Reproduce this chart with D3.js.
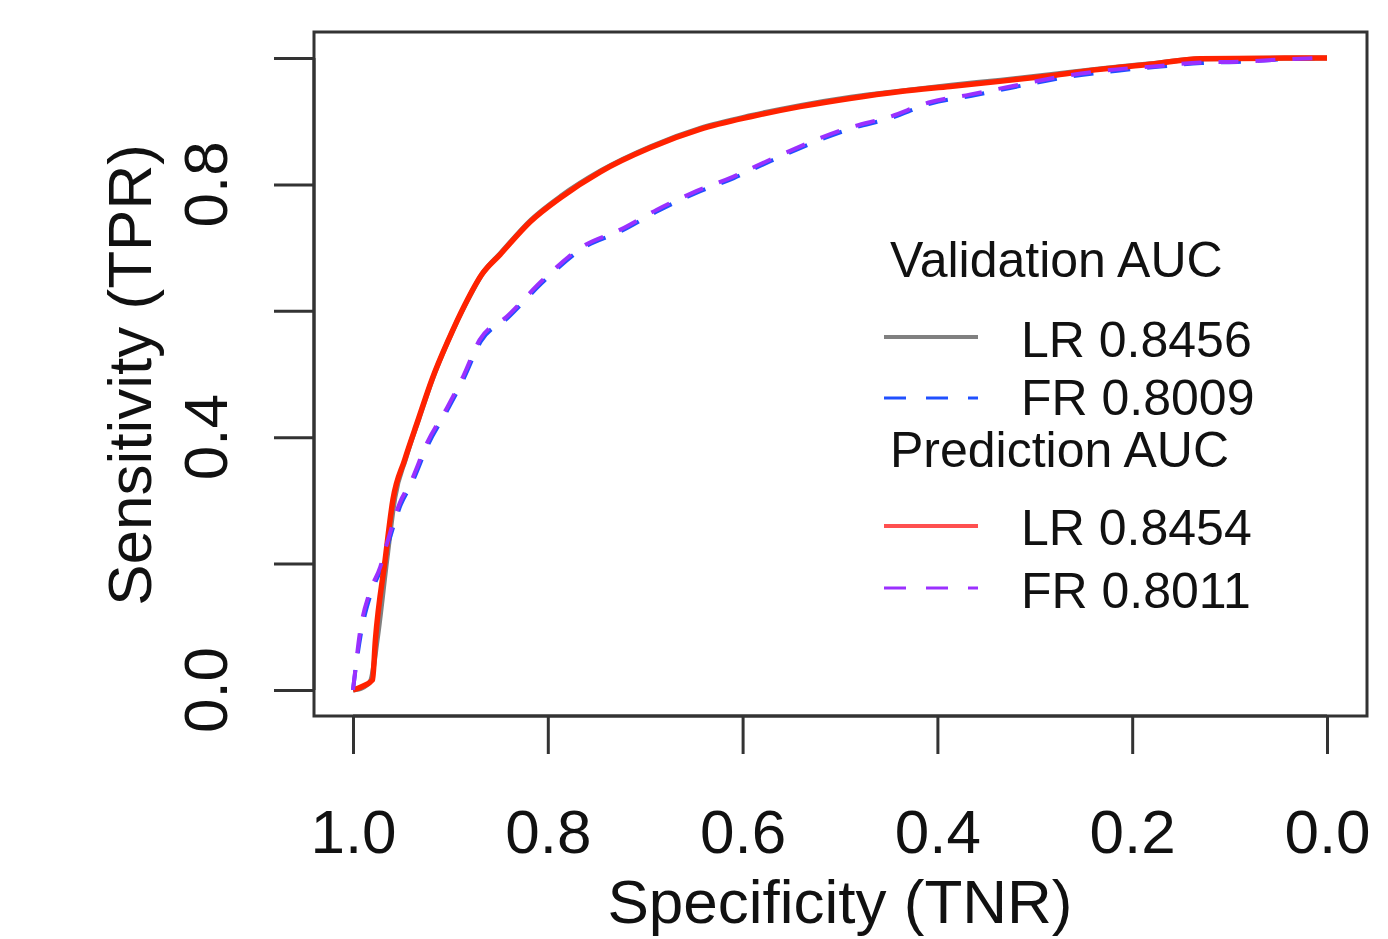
<!DOCTYPE html>
<html>
<head>
<meta charset="utf-8">
<script src="https://cdn.jsdelivr.net/npm/d3@7"></script>
<style>
  body { margin: 0; background: #fff; }
  text { font-family: "Liberation Sans", Arial, Helvetica, sans-serif; fill: #111; }
</style>
</head>
<body>
<div id="chart"></div>
<script>
// ROC curves (specificity, sensitivity)
var lrValSpec = [1.000, 0.990, 0.982, 0.975, 0.965, 0.957, 0.946, 0.932, 0.918, 0.901, 0.884, 0.867, 0.848, 0.817, 0.786, 0.745, 0.694, 0.643, 0.591, 0.540, 0.489, 0.437, 0.386, 0.335, 0.283, 0.232, 0.181, 0.129, 0.000];
var lrValSens = [0.000, 0.004, 0.014, 0.082, 0.210, 0.305, 0.366, 0.431, 0.494, 0.557, 0.612, 0.659, 0.692, 0.744, 0.782, 0.822, 0.860, 0.889, 0.909, 0.925, 0.938, 0.948, 0.957, 0.965, 0.974, 0.983, 0.991, 0.999, 1.000];

var frValSpec = [1.000, 0.998, 0.992, 0.982, 0.971, 0.963, 0.951, 0.940, 0.923, 0.902, 0.886, 0.869, 0.841, 0.804, 0.763, 0.725, 0.687, 0.650, 0.609, 0.571, 0.489, 0.448, 0.407, 0.366, 0.324, 0.270, 0.215, 0.174, 0.129, 0.088, 0.044, 0.000];
var frValSens = [0.000, 0.025, 0.088, 0.151, 0.193, 0.236, 0.293, 0.326, 0.388, 0.446, 0.494, 0.551, 0.589, 0.647, 0.700, 0.726, 0.758, 0.785, 0.810, 0.837, 0.888, 0.905, 0.928, 0.940, 0.953, 0.969, 0.980, 0.986, 0.992, 0.994, 0.998, 1.000];

var lrPredSpec = [1.000, 0.990, 0.980, 0.977, 0.967, 0.959, 0.947, 0.933, 0.919, 0.902, 0.885, 0.868, 0.849, 0.818, 0.787, 0.746, 0.695, 0.644, 0.592, 0.541, 0.490, 0.438, 0.387, 0.336, 0.284, 0.233, 0.182, 0.130, 0.000];
var lrPredSens = [0.000, 0.006, 0.016, 0.079, 0.206, 0.301, 0.364, 0.428, 0.491, 0.554, 0.610, 0.657, 0.689, 0.741, 0.779, 0.820, 0.858, 0.887, 0.907, 0.923, 0.936, 0.947, 0.955, 0.963, 0.972, 0.982, 0.990, 0.999, 1.000];

var frPredSpec = [1.000, 0.998, 0.993, 0.983, 0.972, 0.964, 0.952, 0.941, 0.924, 0.903, 0.887, 0.870, 0.842, 0.805, 0.764, 0.726, 0.688, 0.651, 0.610, 0.572, 0.490, 0.449, 0.408, 0.367, 0.325, 0.271, 0.216, 0.175, 0.130, 0.089, 0.045, 0.000];
var frPredSens = [0.000, 0.027, 0.090, 0.154, 0.195, 0.238, 0.296, 0.328, 0.391, 0.448, 0.496, 0.554, 0.591, 0.649, 0.702, 0.728, 0.760, 0.787, 0.812, 0.839, 0.890, 0.907, 0.930, 0.942, 0.955, 0.971, 0.982, 0.987, 0.993, 0.994, 0.998, 1.000];

var xTicks = [1.0, 0.8, 0.6, 0.4, 0.2, 0.0];
var yTicks = [0.0, 0.2, 0.4, 0.6, 0.8, 1.0];
var yLabels = [0.0, 0.4, 0.8];

var legendHeads = ["Validation AUC", "Prediction AUC"];
var legendNames = ["LR 0.8456", "FR 0.8009", "LR 0.8454", "FR 0.8011"];

var width = 1388, height = 939;
var box = {left: 314, right: 1367, top: 32, bottom: 716};

var svg = d3.select("#chart").append("svg")
    .attr("width", width)
    .attr("height", height);

// specificity runs from 1 (left) to 0 (right)
var xScale = d3.scaleLinear().domain([1, 0]).range([353, 1327]);
var yScale = d3.scaleLinear().domain([0, 1]).range([690, 58]);

var line = d3.line()
    .curve(d3.curveMonotoneX)
    .x(function(d) { return xScale(d[0]); })
    .y(function(d) { return yScale(d[1]); });

function pairs(a, b) { return a.map(function(v, i) { return [v, b[i]]; }); }

var series = [
  {pts: pairs(lrValSpec, lrValSens), color: "#808080", w: 5, dash: null},
  {pts: pairs(frValSpec, frValSens), color: "#2050ff", w: 4, dash: "20,17"},
  {pts: pairs(lrPredSpec, lrPredSens), color: "#ff2200", w: 5.5, dash: null},
  {pts: pairs(frPredSpec, frPredSens), color: "#9b30ff", w: 4, dash: "20,17"}
];

svg.selectAll(".roc").data(series).enter().append("path")
    .attr("class", "roc")
    .attr("d", function(d) { return line(d.pts); })
    .attr("fill", "none")
    .attr("stroke", function(d) { return d.color; })
    .attr("stroke-width", function(d) { return d.w; })
    .attr("stroke-dasharray", function(d) { return d.dash; });

// plot box
svg.append("rect")
    .attr("x", box.left).attr("y", box.top)
    .attr("width", box.right - box.left).attr("height", box.bottom - box.top)
    .attr("fill", "none").attr("stroke", "#333").attr("stroke-width", 3);

// axes
var xAxis = d3.axisBottom(xScale).tickValues(xTicks).tickSize(38).tickFormat(d3.format(".1f")).tickPadding(99);
var yAxis = d3.axisLeft(yScale).tickValues(yTicks).tickSize(40).tickFormat("");

var xg = svg.append("g").attr("transform", "translate(0," + box.bottom + ")").call(xAxis);
var yg = svg.append("g").attr("transform", "translate(" + box.left + ",0)").call(yAxis);

[xg, yg].forEach(function(g) {
  g.select(".domain").attr("stroke", "#333").attr("stroke-width", 3);
  g.selectAll(".tick line").attr("stroke", "#333").attr("stroke-width", 3);
});
xg.selectAll(".tick text")
    .attr("font-size", 62)
    .attr("fill", "#111")
    .attr("font-family", "Liberation Sans, Arial, sans-serif")
    .attr("dy", "0");
xg.select(".domain").attr("d", "M" + xScale(1) + ",0H" + xScale(0));
yg.select(".domain").attr("d", "M0," + yScale(0) + "V" + yScale(1));

svg.selectAll(".ylab").data(yLabels).enter().append("text")
    .attr("class", "ylab")
    .attr("transform", function(d) { return "translate(227," + yScale(d) + ") rotate(-90)"; })
    .attr("text-anchor", "middle")
    .attr("font-size", 62)
    .text(d3.format(".1f"));

svg.append("text")
    .attr("x", 840).attr("y", 923)
    .attr("text-anchor", "middle")
    .attr("font-size", 62)
    .text("Specificity (TNR)");

svg.append("text")
    .attr("transform", "translate(151,375) rotate(-90)")
    .attr("text-anchor", "middle")
    .attr("font-size", 62)
    .text("Sensitivity (TPR)");

// legend
var lg = svg.append("g").attr("font-size", 50);
lg.selectAll(".head").data(legendHeads).enter().append("text")
    .attr("x", 890)
    .attr("y", function(d, i) { return [277, 467][i]; })
    .text(function(d) { return d; });

var legRows = [337, 398, 526, 588];
var legBase = [357, 415, 545, 608];
var legColors = ["#808080", "#2050ff", "#ff5050", "#9b30ff"];
lg.selectAll(".key").data(legendNames).enter().append("line")
    .attr("x1", 884).attr("x2", 978)
    .attr("y1", function(d, i) { return legRows[i]; })
    .attr("y2", function(d, i) { return legRows[i]; })
    .attr("stroke", function(d, i) { return legColors[i]; })
    .attr("stroke-width", function(d, i) { return i % 2 ? 3 : 4; })
    .attr("stroke-dasharray", function(d, i) { return i % 2 ? "22,20" : null; });
lg.selectAll(".name").data(legendNames).enter().append("text")
    .attr("x", 1021)
    .attr("y", function(d, i) { return legBase[i]; })
    .text(function(d) { return d; });
</script>
</body>
</html>
